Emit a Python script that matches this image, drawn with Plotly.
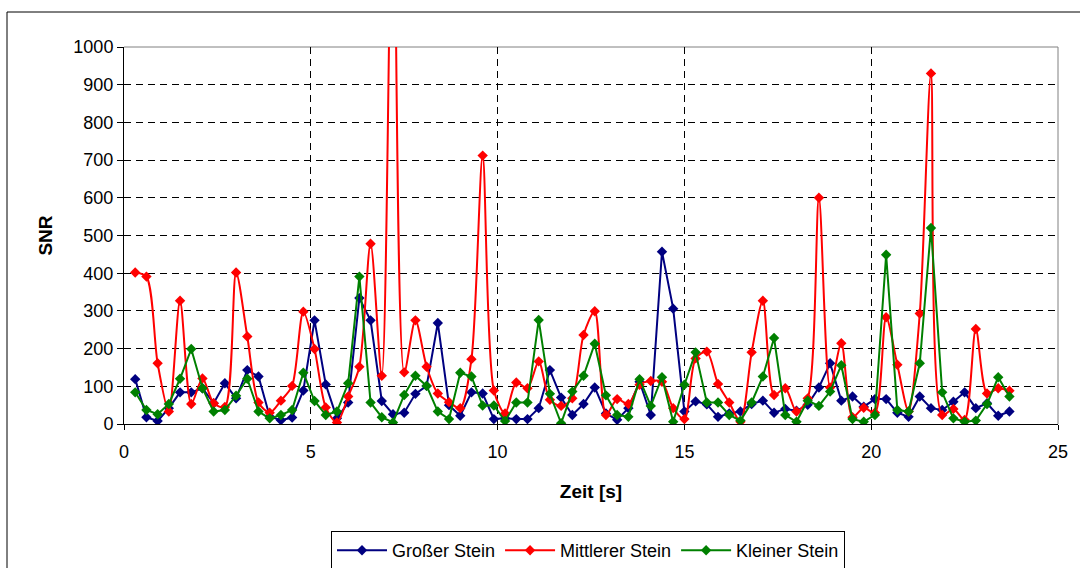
import plotly.graph_objects as go

# Zeitpunkte (s): Messintervall 0,3 s
zeit = [round(0.3 * k, 1) for k in range(1, 80)]

grosser_stein = [
    119, 18, 8, 42, 84, 84, 95, 55, 108, 68, 143, 126, 20, 10,
    17, 89, 275, 105, 15, 57, 334, 275, 61, 26, 30, 80, 101, 268,
    50, 22, 84, 81, 13, 15, 13, 13, 42, 143, 70, 24, 53, 97, 28,
    11, 42, 112, 24, 457, 306, 33, 60, 52, 19, 28, 33, 53, 62,
    30, 40, 35, 51, 97, 161, 62, 73, 46, 66, 66, 30, 19, 73,
    42, 37, 59, 84, 42, 55, 22, 33,
]

mittlerer_stein = [
    402, 391, 161, 33, 327, 53, 121, 55, 45, 402, 232, 57, 30, 62,
    101, 298, 199, 44, 4, 73, 152, 478, 128, 1550, 137, 275, 152, 81,
    58, 42, 172, 712, 89, 28, 110, 95, 166, 64, 48, 68, 236, 299, 24,
    66, 53, 104, 114, 112, 42, 13, 174, 192, 106, 57, 6, 190, 327,
    77, 95, 33, 68, 600, 97, 214, 18, 43, 30, 283, 157, 33, 293,
    930, 24, 40, 11, 252, 81, 95, 88,
]

kleiner_stein = [
    84, 37, 26, 53, 120, 199, 95, 33, 37, 75, 120, 33, 15, 24,
    37, 136, 61, 24, 33, 108, 391, 57, 18, 4, 77, 128, 101, 33,
    13, 136, 126, 49, 49, 8, 57, 57, 276, 80, 2, 86, 128, 213, 76,
    24, 19, 119, 48, 124, 6, 104, 190, 57, 57, 24, 9, 57, 126,
    228, 24, 6, 62, 48, 86, 156, 13, 6, 24, 449, 37, 33, 161,
    520, 84, 15, 6, 9, 53, 124, 73,
]

x_ticks = [0, 5, 10, 15, 20, 25]
y_ticks = list(range(0, 1001, 100))

FONT = "Liberation Sans, Arial, sans-serif"

# Plotbereich in Pixeln
L, R, T, B = 124, 1058, 47, 424
W, H = 1080, 568
pw, ph = R - L, B - T


def px_x(p):
    return (p - L) / pw


def px_y(p):
    return (B - p) / ph


fig = go.Figure()

series = [
    ("Großer Stein", grosser_stein, "#000080", "linear"),
    ("Mittlerer Stein", mittlerer_stein, "#FF0000", "spline"),
    ("Kleiner Stein", kleiner_stein, "#008000", "linear"),
]
for name, vals, col, shape in series:
    line = dict(color=col, width=2, shape=shape)
    if shape == "spline":
        line["smoothing"] = 0.8
    fig.add_trace(go.Scatter(
        x=zeit, y=vals, name=name, mode="lines+markers",
        line=line,
        marker=dict(symbol="diamond", size=8, color=col),
    ))

fig.update_layout(
    width=W, height=H,
    margin=dict(l=L, r=W - R, t=T, b=H - B, pad=0, autoexpand=False),
    paper_bgcolor="white", plot_bgcolor="white",
    font=dict(family=FONT, size=18, color="black"),
    showlegend=True,
    legend=dict(
        orientation="h", x=px_x(588), xanchor="center",
        y=px_y(531), yanchor="top",
        bordercolor="black", borderwidth=1, bgcolor="white",
        font=dict(size=18), itemwidth=50, tracegroupgap=0,
    ),
    xaxis=dict(
        range=[0, 25], tickvals=x_ticks, ticktext=[str(v) for v in x_ticks],
        showgrid=True, gridcolor="black", griddash="7px,5px", gridwidth=1,
        showline=True, linecolor="black", linewidth=1,
        ticks="outside", ticklen=5, tickcolor="black",
        zeroline=False, ticklabelstandoff=6,
        title=dict(text="<b>Zeit [s]</b>", font=dict(size=19), standoff=24),
    ),
    yaxis=dict(
        range=[0, 1000], tickvals=y_ticks, ticktext=[str(v) for v in y_ticks],
        showgrid=True, gridcolor="black", griddash="7px,5px", gridwidth=1,
        showline=True, linecolor="black", linewidth=1,
        ticks="outside", ticklen=6, tickcolor="black",
        zeroline=False, ticklabelstandoff=0,
        title=dict(text="<b>SNR</b>", font=dict(size=19), standoff=15),
    ),
)

# grauer Rahmen oben und rechts am Plotbereich
fig.add_shape(type="line", xref="paper", yref="paper", x0=0, x1=1, y0=1, y1=1,
              line=dict(color="#808080", width=1), layer="between")
fig.add_shape(type="line", xref="paper", yref="paper", x0=1, x1=1, y0=0, y1=1,
              line=dict(color="#808080", width=1), layer="between")

# Diagrammrahmen (links und oben sichtbar)
fig.add_shape(type="line", xref="paper", yref="paper",
              x0=px_x(7), x1=px_x(1200), y0=px_y(12), y1=px_y(12),
              line=dict(color="black", width=1), layer="above")
fig.add_shape(type="line", xref="paper", yref="paper",
              x0=px_x(7), x1=px_x(7), y0=px_y(12), y1=px_y(700),
              line=dict(color="black", width=1), layer="above")

fig.write_html("out.html")
